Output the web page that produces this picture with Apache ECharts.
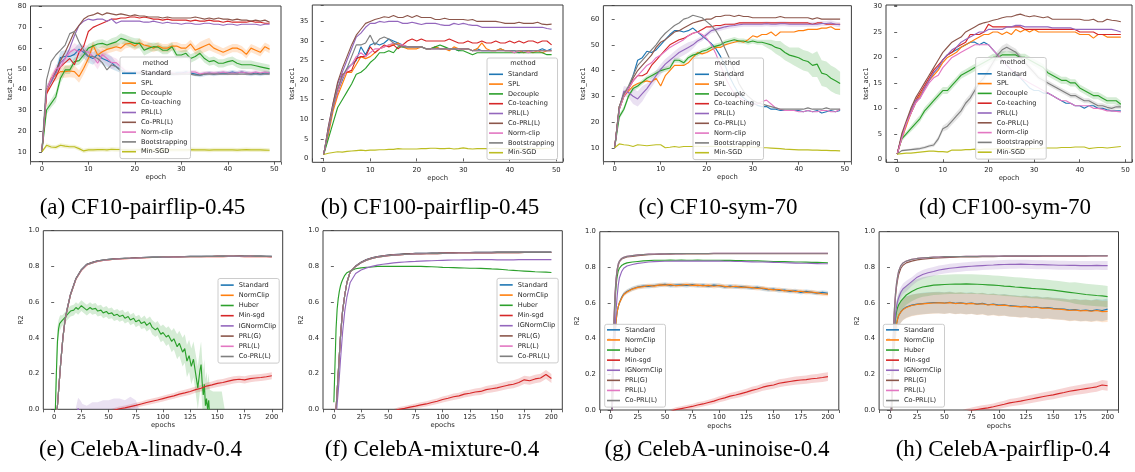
<!DOCTYPE html>
<html><head><meta charset="utf-8">
<script src="https://cdn.jsdelivr.net/npm/echarts@6.0.0/dist/echarts.min.js"></script>
<style>html,body{margin:0;padding:0;background:#fff}#c{width:1135px;height:472px}</style>
</head><body><div id="c"></div>
<script>
// ---------------- DATA ----------------
const TOP_NAMES = ['Standard','SPL','Decouple','Co-teaching','PRL(L)','Co-PRL(L)','Norm-clip','Bootstrapping','Min-SGD'];
const BOT_NAMES = ['Standard','NormClip','Huber','Min-sgd','IGNormClip','PRL(G)','PRL(L)','Co-PRL(L)'];
const EPOCHS = [0,1,2,3,4,5,6,7,8,9,10,11,12,13,14,15,16,17,18,19,20,21,22,23,24,25,26,27,28,29,30,31,32,33,34,35,36,37,38,39,40,41,42,43,44,45,46,47,48,49];
const TOP_XTICKS = [0,10,20,30,40,50];

// (a) CF10-pairflip-0.45
const A_std=[10,40,44,48,55.5,56,56,57,59.5,58, 56,55,57,55,54,53,51,49.5,48.5,48, 48.5,48,48,47.5,48,48.5,48,48,47.5,48, 48,48.5,48,47.5,47,47.5,48,47.5,48,48, 48,48.5,48,48.5,48,47.5,48,47.5,48,48];
const A_spl=[10,38,45.5,47,48.7,48.7,49,48.7,46.3,50.3, 55,61.5,56.7,58.3,59.4,60,60.7,60,62,62.3, 61,62.6,61.5,61,60,61,60,60,61,61, 60,60,62,59,60,61,62,60,59,58, 59,60,60,59,57,60,59,58,60.7,59.5];
const A_dec=[10,30.2,33.4,36.6,45.5,49.5,49.5,53.5,54,56.7, 60,61,62,62.3,61.5,62.3,63,64.7,64,63, 62.3,62.3,59,60,60.7,60.5,59,59,60.7,56.7, 56.7,57.5,55,56,57.5,55,53.5,54,52.7,52.7, 53.5,54,52.7,52,52,52,51.5,51,50.5,50];
const A_cot=[10,38,42,46,51,53,55,52,58,61, 68,70,71,72,73,74,74,74.5,74.5,75, 75,74.5,75,74.5,74,74,73.5,74,73.5,73.5, 73.5,73.5,73,73.5,73,73,73.5,73,73,72.5, 73,72.5,72.5,72.5,72.5,73,72.5,72.5,72,72];
const A_prl=[10,40,44,48,53,55,60,66,71,73, 74,73.5,74,74,73,74,72,73,73,73, 73,73,72.5,72.5,73,72.5,72,72.5,72,72, 71.5,72,72,71.5,71.5,72,72,71.5,71.5,71, 71.5,71.5,71,71.5,71.5,71.5,71.5,71,71.5,71.5];
const A_coprl=[10,40,45,49,54,58,63,68,71,74, 75.5,76,77,76,77,76.5,76,76.5,76,75.5, 76,75.5,75.5,75,75,75,74.5,75,74.5,74.5, 74.5,74.5,74.5,75,74.5,74,74.5,74,74.5,74, 74,73.5,74,73.5,73.5,73,73.5,73,73.5,72.5];
const A_nc=[10,40,45,50,51,55,58,59.5,58,59, 58,56,52.7,57,55,53,53,51,49,48.5, 48,48.5,48,48,48,48.5,48,48,48,47.5, 48,48,48.5,48.5,47.5,48,48,48,48,48.5, 48,48,48,48.5,48,48,48.5,48,48.5,48];
const A_boot=[10,44.7,53.5,56.7,59,61.5,67,68,63,59, 56,56,55,53,49.5,52,51,49,48,48.5, 48,48,48,47.5,47.5,48,48,47.5,47.5,47.5, 47.5,47.5,47.5,47,47,47.5,47.5,47.5,47.5,47.5, 47.5,47.5,47.5,47.5,47.5,47.5,47.5,47.5,47.5,47.5];
const A_min=[10,13.2,12.4,12.2,13.2,12.8,12.5,12.5,11.6,10.5, 11,11,11.1,11.2,11,11.3,11.2,11.2,11.1,11, 11,11.1,11.1,11.2,11,11,11.1,11,11,11, 11,11,11.1,11,11,11,10.9,11,11,11, 11,11,10.9,11,11.1,11,11,11,10.9,10.8];
// band half-widths
const A_std_s=[0,2,2,2.5,3,3,3,3,3,3, 3,3,3,3,3,3,2,1.5,1,1, 1,1,1,1,1,1,1,1,1,1, 1,1,1,1,1,1,1,1,1,1, 1,1,1,1,1,1,1,1,1,1];
const A_spl_s=[0,2,2,3,3,3,3,3,3,3, 3,2,3,3,2,2,2,2,2,2, 2,2,2,2,2,2,2,2,2,2, 2,2,2,2,3,3,3,2,2,2, 2,2,2,2,2,2,2,2,2,2];
const A_dec_s=[0,2,2,2.5,2.5,2,2,2,2,2, 2,2,2,2,2,2.5,2.5,2.5,2.5,2.5, 2.5,2.5,2.5,2.5,2,2,2,2,2,2, 2,2,2,2,2,2,2,2,2,2, 2,2,2,2,2,2,2,2,2,2];
const A_nc_s=[0,2,2,2,2,2,2,3,3,3, 3,3,3,3,3,3,2,2,1,1, 1,1,1,1,1,1,1,1,1,1, 1,1,1,1,1,1,1,1,1,1, 1,1,1,1,1,1,1,1,1,1];
const A_min_s=[0,1,1,1,1,1,1,1,1,1, 1,1,1,1,1,1,1,1,1,1, 1,1,1,1,1,1,1,1,1,1, 1,1,1,1,1,1,1,1,1,1, 1,1,1,1,1,1,1,1,1,1];

// (b) CF100-pairflip-0.45
const B_std=[1,7,13,17,20,23,24,25,28.5,26.5, 29,29.5,29,29.5,30.5,30,29.5,29,28.5,28.5, 28.5,28.5,28,28,28.5,28,28,28,28,27.5, 28,28,27.5,28,27.5,27.5,27.5,27.5,28,27.5, 27.5,27.5,27,27.5,27.5,27.5,27.5,28,27.5,28];
const B_spl=[1,6,12,16,19,22,22,24,26,25.5, 26,27,28,28.5,29,29,29.5,28.5,28,28, 28,28.5,28,28,28.5,28,28,27.5,28.5,28, 28,28,27.5,28,29.5,28,27.5,27.5,28,27.5, 27.5,27,27.5,27,27.5,27,27.5,27,27.5,27.5];
const B_dec=[1,5,9,13,15,17,19,21.5,22,23, 24.5,25.5,27,27,27.5,27,28.5,28.5,28.5,28.5, 28.5,28.5,28,28,28.5,29,28.5,28,28,27.5, 27.5,27,26.5,27,27,27,27,27,27,27, 27,27,27,27,27,27,27,27,26.5,26.5];
const B_cot=[1,7,13,17,21.5,22,22.5,25.5,26,26, 28.5,27,28,29,28.5,29,28,29,30,30.5, 30,30.5,30,30,30,30,30,30.5,30,29.5, 29.5,30,29.5,29.5,30,29.5,29.5,30,29.5,29.5, 30,29.5,30,29.5,30,30,29.5,30,30,29];
const B_prl=[1,8,14,19,22,25,28,31,32,33.5, 34.5,34.5,35,34.8,35,35,35,34.5,34.5,34.8, 34.5,34.2,34.5,34.5,34.5,34.2,34,34,34.5,34.2, 34.5,34.2,34,34,33.5,33.5,33.5,33.5,33.5,33.5, 33.5,33.5,33.5,33.5,33.5,33.5,33.5,33.5,33.2,33];
const B_coprl=[1,8,14,19.5,23,26,29,31.5,33,34.5, 35,35.5,35.8,36.2,36,36.5,36,36,36.5,36, 36.5,36,36,36,35.5,35.5,35.8,35.5,35.5,35.5, 35.5,35.3,35.5,35,35,35,35,35,34.8,34.5, 34.5,34.5,34.8,34.5,34.5,34.5,34.8,34.3,34.2,34.3];
const B_nc=[1,7,13,17,20.5,22.5,24,26,27,26, 27,28,28,28.5,29,29.5,29,29,28.5,28.5, 28.5,28.5,28,28,28,28,28,28,28,28, 28,28,27.5,27.5,27.5,27.5,27.5,27.5,27.5,27.5, 27.5,27,27.5,27.5,27,27.5,27.5,27.5,27.5,27.5];
const B_boot=[1,7,13,18,21,23,26,29,29,29.5, 31.5,29,30.5,31,30.5,29.5,29,28.5,28.5,28.5, 28.5,28.5,28,28,28,28,28,28,28,28, 28,28,27.5,27.5,27.5,27.5,27.5,27.5,27.5,27.5, 27.5,27.5,27.5,27.5,27.5,27.5,27.5,27.5,27.5,27.5];
const B_min=[1,1.3,1.5,1.7,1.6,1.8,1.9,2,2.1,2, 2.1,2.1,2.2,2.2,2.3,2.3,2.5,2.4,2.4,2.4, 2.4,2.5,2.5,2.6,2.6,2.5,2.5,2.6,2.4,2.5, 2.7,2.5,2.4,2.5,2.5,2.5,2.5,2.6,2.5,2.5, 2.5,2.5,2.5,2.5,2.5,2.6,2.5,2.5,2.6,2.6];

// (c) CF10-sym-70
const C_std=[10,25,30,33,38,44,45,47.5,47,48, 50,52,54,55.5,55.5,55,55.5,56.5,55,53.5, 52,50.5,48.5,45.5,42,37.5,34,31,29.5,28, 27.5,26.5,26,26,25,25,24.5,24.5,24.5,24.5, 24.5,24,24.5,24,24.5,23.5,24,24.5,24,24.5];
const C_spl=[10,25,30,32,34,35,35.5,36,35.5,37, 34,38,40,42,42,42,43,45,47,46.5, 47,48,49,49,50,50.5,51,51.5,51,52, 53.5,53,54,54,55,53.5,55,55,55,55, 55.5,55.5,56,56,56,56.5,56.5,57,56,56];
const C_dec=[10,22,25,30,33,34,35.5,37,38,39, 40,40.5,41,44,44,43,45,46,46.5,47.5, 48,49,49.5,50,51,51.5,52,51.5,51.5,51, 51.5,51,51,50.5,50,49,48.5,47,46,45.5, 45,44,43.5,42,42.5,39,38.5,37,36,35];
const C_cot=[10,26,30,33,36,38,38,39,42,44, 46,48,50,51,52,52.5,53.5,54.5,55,56, 57,57,57.5,57.5,58,58,58,58.5,58.5,58.5, 58.5,58.5,58.5,58.5,58.5,58.5,58.5,58.5,58.5,58.5, 58.5,58.5,58.5,58,58.5,58.5,58,58,58,58];
const C_prl=[10,25,32,31.5,30,29,31,33,35.5,38, 40.5,42.5,44,45.5,47,48,49,50,51.5,52.5, 54,55.5,56,56.5,57,57.3,57.5,57.8,58,58, 58,58,58,58.2,58,58,58.2,58.2,58,58, 58,58,58,58,58,58.3,58.3,58.5,58,57.8];
const C_coprl=[10,26,31,33,37,40,42,44,46,49, 51,52,53.5,55,55.5,56.5,57.5,58.5,59,59.5, 60,60,61,61,61.5,61.5,61,61.5,61,61, 60.5,60.5,60.5,60.5,60.5,60.5,61,60.5,60.5,60.5, 60.5,60.5,60.5,60,60.5,60,60,60,60,60];
const C_nc=[10,25,30,33,36,38,40,42,43,45, 46,47.5,49,50,51,52,53.5,54.5,55,54, 52.5,50,46.5,42,37.5,34,31,29.5,28.5,27.5, 27,27,28,28.5,27,25.5,25,24.5,24.5,24.5, 24,24,24.5,24,24,24.5,24.5,24,24,25];
const C_boot=[10,26,31,34,38,42,44,46,48,50, 52.5,54.5,56,57.5,58.5,60,60.5,61.5,61,60.5, 59,57.5,55.5,52.5,48.5,44.5,40,35,32,30, 28.5,27.5,27,26.5,26,25.5,25,25,25,25, 25,25,25.5,25,25,25,25.5,25,25,25];
const C_min=[10,11.5,11.2,11,10.5,11.2,11,10.8,11,11.2, 11.2,10,10.2,10.5,10.2,10.5,10.5,10.5,10.6,10.5, 10.5,10.6,10.5,10.5,10.4,10.5,10.4,10.4,10.3,10.3, 10.3,10.2,10,10,9.9,9.8,9.7,9.5,9.4,9.3, 9.2,9.2,9.2,9.1,9.1,9,9,8.9,8.9,8.8];
const C_dec_s=[0,1,1,1,1,1,1,1,1,1, 1,1,1,1,1,1,1,1,1,1, 1,1,1,1,1,1,1,1,1,1, 1,1,1,1.5,2,2.5,3,3,3,3.5, 4,4,4,4.5,5,5,5,5,5,4.5];
const C_prl_s=[0,1,2,2,3,3,3,2,2,2, 2,2,2,2,2,2,2,1.5,1,1, 1,1,1,1,1,1,1,1,1,1, 1,1,1,1,1,1,1,1,1,1, 1,1,1,1,1,1,1,1,1,1];

// (d) CF100-sym-70
const D_std=[1,4.5,7,9,11,12.5,14,15.5,17,18, 19.5,20.5,21,21.5,22,22.5,23,23,22.5,23, 22.5,21.5,20.5,19.5,18.5,17.5,16.5,16,15,14, 13.5,13.5,13,13,12.5,12,11.5,11,11,10.5, 10.5,10,10.5,10.5,10,10,9.7,9.5,9.5,9.5];
const D_spl=[1,4,6.5,9,11,12.5,14,15.5,16.5,17.5, 19,20,20.5,21,22,22.5,23,23.5,24,24.5, 24.5,25,25,24.5,25,24.5,25.5,25,25.5,25, 25.5,25,25,25,25,25,25,25,25,25, 24.5,24.5,24.5,23.8,24.5,24.5,24,24,24,24];
const D_dec=[1,4,5,6,7,8,9.5,10.5,11.5,12.5, 13.5,13.5,14.5,15.5,16.5,17,17.5,18,18.5,19, 19.5,20,20,20.5,20.5,20.5,20.5,20,20,19.5, 19,18.5,18,17,16.5,16,15.5,15.5,15,15, 14,13.5,13,12.5,12.5,12,11.5,11.5,11.5,10.8];
const D_cot=[1,4.5,7,9.5,11.5,13,14.5,16,17.5,18.5, 19.5,20.5,21,22,22.5,23,24.5,24.5,24.5,25, 26.5,26,26,26,26,26,26,26,25.5,25.5, 25.5,25.5,25.5,25.5,25.5,25.5,25.5,25.5,25.5,25.5, 25,25,25,25,24.5,24.5,24.5,24.5,24.5,24.5];
const D_prl=[1,4.5,7,9.5,11.5,12,14,15.5,17,18, 19.5,20.5,21.5,22,23,23.5,24,24.5,25,25, 25.5,25.5,25.5,25.5,26,26,26.3,26.3,26,26, 26,26,26,26,25.8,25.8,25.8,25.8,25.8,25.5, 25.5,25.5,25.5,25.5,25.5,25.5,25.5,25.5,25.3,25];
const D_coprl=[1,5,7.5,10,12,13.5,15,16.5,18,19.5, 21,22,23,23.5,24,25,25.5,26,26.5,26.8, 27,27.3,27.5,27.8,28,28,28.3,28.5,28.2,28, 28.2,28,27.8,28,27.5,27.5,27.5,27.5,27.5,27.5, 27.5,27.3,27.3,27.5,27,27,27.5,27.3,27.2,27];
const D_nc=[1,4,7,9,11,12,13.5,15,16,16.5, 18,19,20,20.5,21,21.5,22,22.5,22.5,22.5, 22.5,21.5,20.5,19.5,18.5,17.5,17,16,15.5,15, 14.5,14,13.5,13,12.5,12,11.5,11.5,11,10.5, 10.5,10.5,10.5,10,10,9.8,9.5,9.5,9.4,9.3];
const D_boot=[1,1.7,1.8,1.9,2,2.1,2.3,2.6,2.8,4, 6,6.5,7.5,8.5,9.5,11,12,13.5,15,16, 17.5,19,20.5,21.5,22,21.5,21,20,19,18, 17,16,15.5,15,14.5,14,13.5,13,12.5,12.5, 12,11.5,11.5,11,10.5,10.5,10.2,10,10.3,10.3];
const D_min=[1,1.1,1.2,1.2,1.3,1.4,1.5,1.6,1.6,1.5, 1.5,1.4,1.8,1.8,1.8,1.9,1.9,2,1.9,2, 2,2,2.1,2,2.1,2,2.1,2.1,2,2.1, 2.1,2.1,2.2,2.2,2.2,2.2,2.3,2.3,2.3,2.4, 2.4,2.4,2.1,2.2,2.3,2.3,2.2,2.3,2.4,2.5];
const D_dec_s=[0,0.5,0.5,0.6,0.7,0.7,0.7,0.7,0.7,0.7, 0.7,0.7,0.7,0.7,0.7,0.7,0.7,0.7,0.7,0.7, 0.7,0.7,0.7,0.7,0.7,0.7,0.7,0.7,0.7,0.7, 0.7,0.7,0.7,0.7,0.7,0.7,0.7,0.7,0.7,0.7, 0.7,0.7,0.7,0.7,0.7,0.7,0.7,0.7,0.7,0.7];
const D_boot_s=[0,0.2,0.2,0.2,0.3,0.3,0.3,0.3,0.4,0.5, 0.6,0.7,0.7,0.8,0.8,0.8,0.8,0.8,0.8,0.8, 0.8,0.8,0.8,0.8,0.8,0.7,0.7,0.6,0.6,0.6, 0.6,0.5,0.5,0.5,0.5,0.5,0.5,0.5,0.5,0.5, 0.5,0.5,0.5,0.5,0.5,0.5,0.5,0.5,0.5,0.5];

// ---- bottom row (CelebA), sampled epochs ----
const EB=[0,2,3,4,5,6,7,8, 10,12,15, 20,25,30,35,40,45,50, 55,60,65,70,75,80,85,90,95,100, 105,110,115,120,125,130,135,140,145,150, 155,160,165,170,175,180,185,190,195,200];
const EM=[50,55,60,65,70,75,80,85,90,95, 100,105,110,115,120,125,130,135,140,145, 150,155,160,165,170,175,180,185,190,195, 200];
const BOT_XTICKS=[0,25,50,75,100,125,150,175,200];

// (e) linadv
const E_prlg=[-0.6,-0.05,0.02,0.1,0.18,0.26,0.33,0.4, 0.5,0.565,0.645, 0.732,0.782,0.812,0.823,0.832,0.836,0.84, 0.842,0.844,0.846,0.847,0.849,0.85,0.851,0.852,0.852,0.853, 0.853,0.854,0.855,0.855,0.856,0.856,0.857,0.857,0.857,0.858, 0.858,0.858,0.858,0.859,0.858,0.858,0.858,0.858,0.857,0.857];
const E_prll=[-0.6,-0.05,0.02,0.1,0.18,0.26,0.33,0.4, 0.5,0.56,0.64, 0.728,0.778,0.808,0.82,0.828,0.833,0.837, 0.84,0.842,0.844,0.845,0.846,0.848,0.849,0.85,0.85,0.851, 0.852,0.852,0.853,0.854,0.854,0.855,0.855,0.855,0.855,0.856, 0.855,0.856,0.856,0.856,0.855,0.856,0.855,0.855,0.854,0.853];
const E_coprl=[-0.6,-0.05,0.02,0.1,0.18,0.26,0.33,0.4, 0.5,0.56,0.64, 0.73,0.78,0.81,0.82,0.83,0.835,0.838, 0.84,0.843,0.845,0.846,0.847,0.848,0.85,0.85,0.851,0.852, 0.852,0.853,0.853,0.854,0.855,0.855,0.855,0.856,0.856,0.856, 0.856,0.857,0.857,0.857,0.857,0.857,0.856,0.857,0.856,0.855];
const E_std=E_prlg;   // hidden under the PRL curves in the picture
const E_nc=E_prll;
const EH=[0,1,2,3,4,5,6,7,8, 10,12,15,18,20,22,25,28,30, 33,35,38,40,43,45,48,50, 53,55,58,60,63,65,68,70, 73,75,78,80,83,85,88,90, 93,95,98,100,103,105,108,110, 113,115,118,120,122,124,126,128, 130,132,134,135,136,137,138,139, 140,141,142,143,146,150,154,158];
const E_huber=[-0.3,-0.02,0.2,0.38,0.45,0.48,0.49,0.495,0.5, 0.515,0.53,0.55,0.555,0.57,0.56,0.58,0.565,0.555, 0.57,0.56,0.565,0.55,0.555,0.54,0.548,0.535, 0.54,0.525,0.532,0.52,0.527,0.51,0.52,0.5, 0.51,0.49,0.5,0.48,0.49,0.47,0.485,0.46, 0.445,0.455,0.42,0.43,0.405,0.415,0.38,0.395, 0.35,0.37,0.32,0.34,0.27,0.3,0.24,0.28, 0.2,0.12,0.22,0.25,0.15,0.08,0.14,0.02, 0.06,0.0,0.05,-0.05,-0.1,-0.15,-0.1,-0.2];
const E_huber_s=[0.05,0.1,0.1,0.08,0.05,0.04,0.04,0.03,0.03, 0.03,0.03,0.03,0.03,0.03,0.03,0.03,0.03,0.03, 0.03,0.03,0.03,0.03,0.03,0.03,0.03,0.03, 0.03,0.03,0.03,0.03,0.03,0.03,0.03,0.03, 0.03,0.03,0.03,0.03,0.035,0.035,0.035,0.04, 0.04,0.04,0.045,0.045,0.05,0.05,0.06,0.06, 0.07,0.07,0.08,0.08,0.09,0.09,0.1,0.1, 0.11,0.12,0.12,0.13,0.13,0.14,0.14,0.15, 0.15,0.15,0.15,0.16,0.2,0.25,0.2,0.15];
const E_min=[-0.015,-0.005,0.003,0.008,0.015,0.022,0.03,0.038,0.045,0.052, 0.06,0.068,0.075,0.085,0.092,0.1,0.11,0.118,0.13,0.137, 0.145,0.15,0.158,0.165,0.168,0.165,0.172,0.175,0.178,0.182, 0.188];
const E_min_s=[0.012,0.012,0.012,0.013,0.013,0.014,0.014,0.015,0.015,0.015, 0.016,0.016,0.016,0.017,0.017,0.018,0.018,0.018,0.019,0.019, 0.02,0.02,0.02,0.02,0.02,0.02,0.02,0.02,0.02,0.02, 0.02];
const EI=[15,20,22,24,26,30,35,40,45,50,55,60,65,70,75,80];
const E_ig=[-0.15,-0.05,0.005,-0.02,-0.04,-0.06,-0.05,-0.04,-0.05,-0.03,-0.04,-0.03,-0.05,-0.02,-0.03,-0.08];
const E_ig_s=[0.05,0.06,0.06,0.07,0.07,0.08,0.09,0.08,0.1,0.08,0.1,0.09,0.1,0.09,0.08,0.05];

// (f) mixture
const F_prlg=[-0.5,0.0,0.1,0.2,0.3,0.4,0.48,0.55, 0.64,0.71,0.77, 0.802,0.823,0.838,0.848,0.855,0.859,0.863, 0.866,0.868,0.87,0.871,0.873,0.873,0.874,0.875,0.875,0.876, 0.877,0.877,0.878,0.878,0.878,0.879,0.879,0.879,0.879,0.88, 0.88,0.88,0.88,0.88,0.881,0.881,0.881,0.881,0.881,0.881];
const F_coprl=[-0.5,0.0,0.1,0.2,0.3,0.4,0.48,0.55, 0.64,0.71,0.77, 0.8,0.82,0.835,0.845,0.852,0.856,0.86, 0.863,0.865,0.867,0.868,0.87,0.87,0.871,0.872,0.872,0.873, 0.874,0.874,0.875,0.875,0.875,0.876,0.876,0.876,0.876,0.877, 0.877,0.877,0.877,0.877,0.878,0.878,0.878,0.878,0.878,0.878];
const F_prll=F_coprl;  // overlapping curves
const F_std=F_prlg;
const F_nc=F_coprl;
const F_huber=[0.04,0.45,0.56,0.62,0.66,0.69,0.71,0.725, 0.75,0.765,0.775, 0.787,0.792,0.795,0.797,0.8,0.8,0.8, 0.8,0.8,0.801,0.8,0.8,0.8,0.799,0.798,0.797,0.795, 0.794,0.793,0.792,0.791,0.79,0.79,0.789,0.788,0.786,0.785, 0.783,0.78,0.778,0.776,0.774,0.772,0.77,0.769,0.768,0.766];
const F_ig=[-0.8,-0.05,0.03,0.1,0.18,0.27,0.35,0.43, 0.55,0.63,0.71, 0.76,0.78,0.792,0.8,0.807,0.812,0.816, 0.82,0.823,0.825,0.827,0.828,0.83,0.831,0.832,0.833,0.834, 0.835,0.836,0.836,0.837,0.837,0.838,0.838,0.838,0.838,0.837, 0.837,0.837,0.837,0.838,0.838,0.838,0.838,0.838,0.838,0.838];
const F_min=[-0.02,-0.01,0.0,0.005,0.012,0.018,0.025,0.03,0.038,0.045, 0.055,0.062,0.07,0.075,0.085,0.09,0.097,0.1,0.11,0.115, 0.12,0.128,0.135,0.14,0.15,0.165,0.16,0.17,0.175,0.195, 0.172];
const F_min_s=[0.012,0.012,0.013,0.013,0.014,0.014,0.015,0.015,0.016,0.016, 0.017,0.017,0.018,0.018,0.019,0.019,0.02,0.02,0.02,0.021, 0.021,0.022,0.022,0.022,0.023,0.023,0.023,0.024,0.024,0.025, 0.025];

// (g) uninoise
const G_prlg=[-0.2,0.28,0.48,0.63,0.72,0.78,0.81,0.83, 0.845,0.852,0.858, 0.862,0.866,0.869,0.871,0.872,0.873,0.874, 0.874,0.875,0.875,0.875,0.876,0.876,0.876,0.876,0.877,0.877, 0.877,0.877,0.877,0.877,0.877,0.877,0.877,0.877,0.877,0.877, 0.877,0.877,0.877,0.877,0.877,0.877,0.877,0.877,0.877,0.877];
const G_coprl=[-0.2,0.3,0.5,0.65,0.74,0.79,0.82,0.835, 0.85,0.856,0.862, 0.866,0.87,0.872,0.874,0.875,0.876,0.876, 0.877,0.877,0.877,0.878,0.878,0.878,0.878,0.878,0.879,0.879, 0.879,0.879,0.879,0.879,0.879,0.879,0.879,0.879,0.879,0.879, 0.879,0.879,0.879,0.879,0.879,0.879,0.879,0.879,0.879,0.879];
const G_prll=G_coprl;
const G_huber=[-0.2,0.25,0.42,0.6,0.7,0.75,0.78,0.795, 0.81,0.818,0.825, 0.83,0.833,0.836,0.838,0.84,0.84,0.84, 0.841,0.84,0.841,0.84,0.84,0.841,0.84,0.84,0.84,0.84, 0.839,0.839,0.838,0.838,0.837,0.836,0.836,0.835,0.834,0.833, 0.832,0.832,0.831,0.83,0.83,0.829,0.828,0.828,0.827,0.826];
const G_ig=[-0.3,0.1,0.3,0.45,0.56,0.64,0.7,0.74, 0.775,0.795,0.808, 0.816,0.822,0.826,0.83,0.832,0.833,0.834, 0.834,0.835,0.835,0.835,0.835,0.835,0.835,0.835,0.835,0.835, 0.834,0.834,0.833,0.833,0.832,0.831,0.83,0.83,0.829,0.828, 0.827,0.826,0.825,0.824,0.823,0.823,0.822,0.821,0.82,0.82];
const G_std=[-0.3,0.1,0.3,0.42,0.5,0.55,0.58,0.6, 0.63,0.65,0.665, 0.68,0.69,0.695,0.693,0.698,0.7,0.705, 0.697,0.7,0.702,0.698,0.703,0.697,0.7,0.695,0.7,0.697, 0.69,0.695,0.69,0.692,0.688,0.685,0.688,0.68,0.675,0.678, 0.67,0.672,0.665,0.668,0.66,0.665,0.66,0.655,0.66,0.655];
const G_nc=[-0.3,0.1,0.3,0.42,0.5,0.55,0.58,0.6, 0.625,0.648,0.662, 0.678,0.688,0.692,0.698,0.695,0.702,0.7, 0.703,0.697,0.7,0.704,0.699,0.7,0.696,0.699,0.694,0.698, 0.693,0.69,0.694,0.688,0.69,0.686,0.682,0.684,0.678,0.674, 0.676,0.668,0.67,0.664,0.666,0.66,0.662,0.657,0.652,0.65];
const G_std_s=[0,0.02,0.02,0.02,0.015,0.015,0.012,0.012, 0.012,0.012,0.012, 0.012,0.012,0.012,0.012,0.012,0.012,0.012, 0.012,0.012,0.012,0.012,0.012,0.012,0.012,0.012,0.012,0.012, 0.012,0.012,0.012,0.012,0.012,0.012,0.012,0.012,0.012,0.012, 0.012,0.012,0.012,0.012,0.012,0.012,0.012,0.012,0.012,0.012];
const G_min=[-0.02,-0.008,0.002,0.008,0.014,0.02,0.028,0.034,0.042,0.05, 0.06,0.068,0.078,0.084,0.092,0.1,0.11,0.118,0.128,0.135, 0.14,0.15,0.155,0.16,0.165,0.168,0.17,0.175,0.178,0.182, 0.187];
const G_min_s=[0.012,0.012,0.013,0.013,0.014,0.014,0.015,0.015,0.016,0.016, 0.017,0.017,0.018,0.018,0.019,0.019,0.02,0.02,0.02,0.021, 0.021,0.022,0.022,0.022,0.023,0.023,0.023,0.024,0.024,0.025, 0.025];

// (h) pairflip
const H_prlg=[-0.3,0.18,0.4,0.54,0.63,0.69,0.73,0.76, 0.795,0.812,0.825, 0.835,0.842,0.846,0.849,0.851,0.853,0.855, 0.856,0.857,0.858,0.858,0.859,0.859,0.86,0.86,0.86,0.861, 0.861,0.861,0.862,0.862,0.862,0.862,0.862,0.863,0.863,0.863, 0.863,0.863,0.863,0.863,0.863,0.863,0.864,0.864,0.864,0.864];
const H_coprl=[-0.3,0.2,0.42,0.56,0.65,0.71,0.75,0.78, 0.81,0.825,0.835, 0.845,0.85,0.853,0.855,0.857,0.858,0.86, 0.86,0.861,0.861,0.862,0.862,0.862,0.863,0.863,0.863,0.863, 0.864,0.864,0.864,0.864,0.864,0.864,0.864,0.865,0.865,0.865, 0.865,0.865,0.865,0.865,0.865,0.865,0.865,0.865,0.865,0.865];
const H_prll=H_coprl;
const H_ig=[-0.3,0.15,0.32,0.45,0.53,0.58,0.61,0.63, 0.66,0.68,0.695, 0.72,0.745,0.76,0.77,0.777,0.785,0.79, 0.795,0.798,0.801,0.804,0.806,0.808,0.81,0.812,0.813,0.815, 0.816,0.817,0.817,0.818,0.817,0.816,0.815,0.815,0.814,0.813, 0.812,0.812,0.811,0.811,0.81,0.81,0.81,0.811,0.81,0.81];
const H_ig_s=[0,0.04,0.04,0.04,0.035,0.03,0.03,0.03, 0.03,0.03,0.03, 0.025,0.025,0.025,0.025,0.025,0.025,0.025, 0.025,0.025,0.025,0.025,0.025,0.025,0.025,0.025,0.025,0.025, 0.025,0.025,0.025,0.025,0.025,0.025,0.025,0.025,0.025,0.025, 0.025,0.025,0.025,0.025,0.025,0.025,0.025,0.025,0.025,0.025];
const H_huber=[-0.3,0.15,0.32,0.44,0.51,0.55,0.575,0.59, 0.61,0.625,0.645, 0.665,0.68,0.69,0.695,0.7,0.702,0.704, 0.705,0.706,0.706,0.707,0.706,0.705,0.704,0.702,0.7,0.698, 0.695,0.693,0.69,0.688,0.685,0.682,0.68,0.678,0.675,0.672, 0.668,0.664,0.66,0.656,0.652,0.648,0.645,0.642,0.64,0.636];
const H_huber_s=[0,0.1,0.1,0.08,0.07,0.06,0.06,0.06, 0.06,0.055,0.055, 0.055,0.055,0.055,0.055,0.055,0.055,0.055, 0.055,0.055,0.055,0.055,0.055,0.055,0.055,0.055,0.055,0.055, 0.055,0.055,0.055,0.055,0.055,0.055,0.055,0.055,0.055,0.055, 0.055,0.055,0.055,0.06,0.06,0.06,0.06,0.06,0.06,0.06];
const H_std=[-0.3,0.1,0.27,0.38,0.44,0.48,0.51,0.53, 0.55,0.565,0.578, 0.588,0.594,0.597,0.6,0.602,0.603,0.6, 0.604,0.598,0.601,0.597,0.6,0.594,0.598,0.59,0.594,0.588, 0.59,0.585,0.583,0.58,0.582,0.576,0.578,0.572,0.574,0.57, 0.568,0.566,0.56,0.563,0.558,0.56,0.556,0.562,0.558,0.566];
const H_nc=[-0.3,0.1,0.27,0.38,0.44,0.48,0.51,0.53, 0.55,0.563,0.575, 0.586,0.592,0.595,0.598,0.6,0.601,0.599, 0.602,0.597,0.6,0.595,0.598,0.593,0.596,0.589,0.592,0.586, 0.588,0.583,0.581,0.578,0.58,0.574,0.576,0.57,0.572,0.567, 0.566,0.563,0.558,0.561,0.556,0.558,0.554,0.558,0.552,0.553];
const H_std_s=[0,0.1,0.08,0.07,0.065,0.06,0.06,0.06, 0.06,0.06,0.06, 0.06,0.06,0.06,0.06,0.06,0.06,0.06, 0.06,0.06,0.06,0.06,0.06,0.06,0.06,0.06,0.06,0.06, 0.06,0.06,0.06,0.06,0.06,0.06,0.06,0.06,0.06,0.06, 0.06,0.06,0.06,0.06,0.06,0.06,0.06,0.06,0.06,0.06];
const H_min=[-0.05,-0.04,-0.03,-0.02,-0.01,-0.003,0.003,0.008,0.012,0.018, 0.025,0.032,0.04,0.045,0.05,0.056,0.062,0.068,0.074,0.08, 0.085,0.092,0.098,0.105,0.11,0.115,0.12,0.125,0.13,0.14, 0.136];
const H_min_s=[0.015,0.015,0.016,0.016,0.017,0.017,0.018,0.018,0.019,0.019, 0.02,0.02,0.021,0.021,0.022,0.022,0.023,0.023,0.024,0.024, 0.025,0.025,0.025,0.026,0.026,0.026,0.027,0.027,0.027,0.028, 0.028];

// ---------------- STYLE ----------------
const TOP_COLORS = {'Standard':'#1f77b4','SPL':'#ff7f0e','Decouple':'#2ca02c','Co-teaching':'#d62728','PRL(L)':'#9467bd','Co-PRL(L)':'#8c564b','Norm-clip':'#e377c2','Bootstrapping':'#7f7f7f','Min-SGD':'#bcbd22'};
const BOT_COLORS = {'Standard':'#1f77b4','NormClip':'#ff7f0e','Huber':'#2ca02c','Min-sgd':'#d62728','IGNormClip':'#9467bd','PRL(G)':'#8c564b','PRL(L)':'#e377c2','Co-PRL(L)':'#7f7f7f'};
const FONT='DejaVu Sans', TXT='#262626', SPINE='#3c3c3c', FS=6.8;

function hexA(h,a){const n=parseInt(h.slice(1),16);return `rgba(${n>>16&255},${n>>8&255},${n&255},${a})`;}
function zip(xs,ys){const n=Math.min(xs.length,ys.length),o=[];for(let i=0;i<n;i++)o.push([xs[i],ys[i]]);return o;}
function fmt(step,dec){return v=>{const k=v/step;return Math.abs(k-Math.round(k))<1e-6?v.toFixed(dec):'';};}

const grids=[],xAxes=[],yAxes=[],series=[],legends=[],gfx=[];

function band(gi,xs,ys,sp,color){
  const n=Math.min(xs.length,ys.length,sp.length),up=[],lo=[];
  for(let i=0;i<n;i++){up.push([xs[i],ys[i]+sp[i]]);lo.push([xs[i],ys[i]-sp[i]]);}
  series.push({type:'custom',xAxisIndex:gi,yAxisIndex:gi,silent:true,clip:true,z:1,animation:false,
    data:[[xs[0],ys[0]]],
    renderItem:(params,api)=>{
      const pts=up.map(p=>api.coord(p)).concat(lo.slice().reverse().map(p=>api.coord(p)));
      return {type:'polygon',shape:{points:pts},style:{fill:hexA(color,0.2),stroke:null}};
    }});
}

function panel(p){
  const gi=grids.length;
  grids.push({left:p.g[0],top:p.g[1],width:p.g[2],height:p.g[3],show:true,borderColor:SPINE,borderWidth:1,backgroundColor:'rgba(0,0,0,0)'});
  xAxes.push({type:'value',gridIndex:gi,min:p.x[0],max:p.x[1],minInterval:p.x[2],maxInterval:p.x[2],
    name:p.xname,nameLocation:'middle',nameGap:12.5,nameTextStyle:{fontFamily:FONT,fontSize:FS,color:TXT},
    axisLine:{show:false},axisTick:{show:true,length:3,lineStyle:{color:SPINE,width:0.8}},
    axisLabel:{fontFamily:FONT,fontSize:FS,color:TXT,margin:4,formatter:fmt(p.x[2],0)},splitLine:{show:false}});
  yAxes.push({type:'value',gridIndex:gi,min:p.y[0],max:p.y[1],minInterval:p.y[2],maxInterval:p.y[2],
    name:p.yname,nameLocation:'middle',nameGap:p.ygap,nameTextStyle:{fontFamily:FONT,fontSize:FS,color:TXT},
    axisLine:{show:false},axisTick:{show:true,length:3,lineStyle:{color:SPINE,width:0.8}},
    axisLabel:{fontFamily:FONT,fontSize:FS,color:TXT,margin:4,formatter:fmt(p.y[2],p.y[3])},splitLine:{show:false}});
  p.s.forEach(s=>{ if(s.sp) band(gi,s.x,s.y,s.sp,s.c); });
  p.s.forEach((s,k)=>{
    series.push({type:'line',name:s.n,xAxisIndex:gi,yAxisIndex:gi,data:zip(s.x,s.y),showSymbol:false,symbol:'none',
      color:s.c,lineStyle:{width:1.15,color:s.c},itemStyle:{color:s.c},z:3+k*0.01,silent:true,animation:false,clip:true});
  });
  const L=p.leg;
  legends.push({data:p.legNames,orient:'vertical',left:L[0],top:L[1],padding:L[2],icon:'rect',itemWidth:L[3],itemHeight:1.6,itemGap:0,
    backgroundColor:'rgba(255,255,255,0.85)',borderColor:'#cccccc',borderWidth:1,borderRadius:2,selectedMode:false,
    textStyle:{fontFamily:FONT,fontSize:6.6,color:TXT,lineHeight:L[4]},formatter:p.legFmt||null,z:10});
  if(p.title) gfx.push({type:'text',x:p.title[0],y:p.title[1],z:20,style:{text:'method',fontFamily:FONT,fontSize:6.6,fill:TXT,align:'center',verticalAlign:'middle',textAlign:'center',textVerticalAlign:'middle'}});
  gfx.push({type:'text',x:p.cap[0],y:p.cap[1],style:{text:p.cap[2],fontFamily:'Liberation Serif',fontSize:23,fill:'#000',align:'center',verticalAlign:'middle',textAlign:'center',textVerticalAlign:'middle'}});
}

function topSeries(std,spl,dec,cot,prl,coprl,nc,boot,min,sp){
  const arr=[std,spl,dec,cot,prl,coprl,nc,boot,min];
  return TOP_NAMES.map((n,i)=>({n,c:TOP_COLORS[n],x:EPOCHS,y:arr[i],sp:sp[n]}));
}
function botSeries(d){
  return BOT_NAMES.map(n=>({n:'b:'+n,c:BOT_COLORS[n],x:d[n][0],y:d[n][1],sp:d[n][2]}));
}
const TX=[-2.45,51.45,10], BX=[-10,210,25], BY=[0,1,0.2,1];
const bfmt=n=>n.slice(2);
const BOT_LEG=BOT_NAMES.map(n=>'b:'+n);

panel({g:[30.5,6,250.5,155.7],x:TX,y:[5.3,80.3,10,0],xname:'epoch',yname:'test_acc1',ygap:16.5,
  s:topSeries(A_std,A_spl,A_dec,A_cot,A_prl,A_coprl,A_nc,A_boot,A_min,{'Standard':A_std_s,'SPL':A_spl_s,'Decouple':A_dec_s,'Norm-clip':A_nc_s,'Min-SGD':A_min_s}),
  legNames:TOP_NAMES,leg:[120,57,[11.4,3,2,2],14,9.8],title:[155.5,63.3],cap:[142.5,207.5,'(a) CF10-pairflip-0.45']});
panel({g:[312.3,5,250.7,157.3],x:TX,y:[-1.0,39.2,5,0],xname:'epoch',yname:'test_acc1',ygap:16.5,
  s:topSeries(B_std,B_spl,B_dec,B_cot,B_prl,B_coprl,B_nc,B_boot,B_min,{}),
  legNames:TOP_NAMES,leg:[487,58,[11.4,3,2,2],14,9.8],title:[523,63.3],cap:[430,207.5,'(b) CF100-pairflip-0.45']});
panel({g:[603.4,5.7,248,156],x:TX,y:[4.6,65.2,10,0],xname:'epoch',yname:'test_acc1',ygap:16.5,
  s:topSeries(C_std,C_spl,C_dec,C_cot,C_prl,C_coprl,C_nc,C_boot,C_min,{'Decouple':C_dec_s,'PRL(L)':C_prl_s}),
  legNames:TOP_NAMES,leg:[693,58,[11.4,3,2,2],14,9.8],title:[727.3,63.3],cap:[718,207.5,'(c) CF10-sym-70']});
panel({g:[886,5,247,157.3],x:TX,y:[-0.6,30.3,5,0],xname:'epoch',yname:'test_acc1',ygap:16.5,
  s:topSeries(D_std,D_spl,D_dec,D_cot,D_prl,D_coprl,D_nc,D_boot,D_min,{'Decouple':D_dec_s,'Bootstrapping':D_boot_s}),
  legNames:TOP_NAMES,leg:[975.7,57.5,[11.4,3,2,2],14,9.8],title:[1012.7,62.7],cap:[1005,207.5,'(d) CF100-sym-70']});

panel({g:[43.3,230.7,239.4,178.6],x:BX,y:BY,xname:'epochs',yname:'R2',ygap:17,
  s:botSeries({'Standard':[EB,E_std],'NormClip':[EB,E_nc],'Huber':[EH,E_huber,E_huber_s],'Min-sgd':[EM,E_min,E_min_s],'IGNormClip':[EI,E_ig,E_ig_s],'PRL(G)':[EB,E_prlg],'PRL(L)':[EB,E_prll],'Co-PRL(L)':[EB,E_coprl]}),
  legNames:BOT_LEG,legFmt:bfmt,leg:[218,278.5,[1.5,3,1.5,2.7],13,10.2],cap:[140.5,450,'(e) CelebA-linadv-0.4']});
panel({g:[323,230.7,239.3,178.6],x:BX,y:BY,xname:'epochs',yname:'R2',ygap:17,
  s:botSeries({'Standard':[EB,F_std],'NormClip':[EB,F_nc],'Huber':[EB,F_huber],'Min-sgd':[EM,F_min,F_min_s],'IGNormClip':[EB,F_ig],'PRL(G)':[EB,F_prlg],'PRL(L)':[EB,F_prll],'Co-PRL(L)':[EB,F_coprl]}),
  legNames:BOT_LEG,legFmt:bfmt,leg:[497,278.3,[1.5,3,1.5,2.7],13,10.2],cap:[432,450,'(f) CelebA-mixture-0.4']});
panel({g:[599.8,231.7,239,178.3],x:BX,y:BY,xname:'epochs',yname:'R2',ygap:17,
  s:botSeries({'Standard':[EB,G_std,G_std_s],'NormClip':[EB,G_nc,G_std_s],'Huber':[EB,G_huber],'Min-sgd':[EM,G_min,G_min_s],'IGNormClip':[EB,G_ig],'PRL(G)':[EB,G_prlg],'PRL(L)':[EB,G_prll],'Co-PRL(L)':[EB,G_coprl]}),
  legNames:BOT_LEG,legFmt:bfmt,leg:[604.7,324.3,[0.5,3,1.5,2.3],13,10.1],cap:[717,450,'(g) CelebA-uninoise-0.4']});
panel({g:[879.1,231.7,239.4,178.3],x:BX,y:BY,xname:'epochs',yname:'R2',ygap:17,
  s:botSeries({'Standard':[EB,H_std,H_std_s],'NormClip':[EB,H_nc,H_std_s],'Huber':[EB,H_huber,H_huber_s],'Min-sgd':[EM,H_min,H_min_s],'IGNormClip':[EB,H_ig,H_ig_s],'PRL(G)':[EB,H_prlg],'PRL(L)':[EB,H_prll],'Co-PRL(L)':[EB,H_coprl]}),
  legNames:BOT_LEG,legFmt:bfmt,leg:[883.3,324.3,[0.5,3,1.5,2.7],13,10.1],cap:[1003,450,'(h) CelebA-pairflip-0.4']});

const chart=echarts.init(document.getElementById('c'),null,{renderer:'canvas'});
chart.setOption({animation:false,backgroundColor:'#ffffff',grid:grids,xAxis:xAxes,yAxis:yAxes,legend:legends,series:series,graphic:{elements:gfx}});
</script></body></html>
